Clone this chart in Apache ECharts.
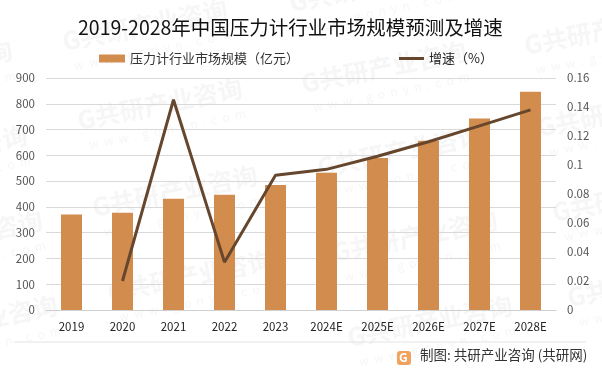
<!DOCTYPE html>
<html>
<head>
<meta charset="utf-8">
<style>
  html, body { margin: 0; padding: 0; background: #fff; }
  #chart { width: 602px; height: 375px; }
</style>
<script src="https://cdn.jsdelivr.net/npm/echarts@6/dist/echarts.min.js"></script>
</head>
<body>
<div id="chart"></div>
<script>
const categories = ['2019', '2020', '2021', '2022', '2023', '2024E', '2025E', '2026E', '2027E', '2028E']
const marketSize = [370, 377, 432, 447, 485, 532, 590, 657, 743, 847]
const growthRate = [null, 0.02, 0.145, 0.033, 0.093, 0.097, 0.106, 0.116, 0.127, 0.138]
const watermarkSpots = [
    [-150, 95], [-135, 180], [-120, 265], [-105, 350],
    [65, 54], [80, 133], [95, 220], [110, 305],
    [292, 15], [304, 96], [320, 180], [335, 265], [350, 350],
    [527, 58], [540, 140], [555, 225], [570, 310]
]

const font = '"Noto Sans CJK SC", sans-serif'
const chart = echarts.init(document.getElementById('chart'), null, { renderer: 'canvas' })

const watermarks = watermarkSpots.flatMap(([x, y]) => [
    {
        type: 'text', x: x, y: y, rotation: 0.2, z: -10, silent: true,
        style: { text: 'G共研产业咨询', font: 'bold 25px ' + font, fill: '#f6f6f6', verticalAlign: 'bottom' }
    },
    {
        type: 'text', x: x + 8, y: y + 6, rotation: 0.2, z: -10, silent: true,
        style: { text: 'w  w  w  .  g  o  n  y  n  .  c  o  m', font: '12px ' + font, fill: '#f6f6f6' }
    }
])

chart.setOption({
    animation: false,
    backgroundColor: '#fff',
    title: {
        text: '2019-2028年中国压力计行业市场规模预测及增速',
        left: 78,
        top: 18,
        padding: 0,
        textStyle: { fontFamily: font, fontWeight: 'normal', fontSize: 19.5, color: '#111' }
    },
    legend: [
        {
            left: 99,
            top: 52,
            padding: 0,
            itemWidth: 26,
            itemHeight: 8,
            icon: 'rect',
            textStyle: { fontFamily: font, fontSize: 13, color: '#333' },
            data: ['压力计行业市场规模（亿元）']
        },
        {
            left: 399,
            top: 52,
            padding: 0,
            itemWidth: 25,
            itemHeight: 3,
            icon: 'rect',
            textStyle: { fontFamily: font, fontSize: 13, color: '#222' },
            data: ['增速（%）']
        }
    ],
    grid: { left: 46, right: 46, top: 78, bottom: 65 },
    xAxis: {
        type: 'category',
        data: categories,
        axisTick: { show: false },
        axisLine: { lineStyle: { color: '#d0d0d0' } },
        axisLabel: { fontFamily: font, fontSize: 11.5, color: '#222', margin: 11 }
    },
    yAxis: [
        {
            type: 'value',
            min: 0,
            max: 900,
            interval: 100,
            axisLabel: { fontFamily: font, fontSize: 11.5, color: '#555', margin: 11 },
            splitLine: { lineStyle: { color: '#d9d9d9' } }
        },
        {
            type: 'value',
            min: 0,
            max: 0.16,
            interval: 0.02,
            axisLabel: { fontFamily: font, fontSize: 11.5, color: '#555', margin: 11 },
            splitLine: { show: false }
        }
    ],
    series: [
        {
            name: '压力计行业市场规模（亿元）',
            type: 'bar',
            data: marketSize,
            barWidth: 21,
            itemStyle: { color: '#d28c4e' }
        },
        {
            name: '增速（%）',
            type: 'line',
            yAxisIndex: 1,
            data: growthRate,
            showSymbol: false,
            symbol: 'none',
            lineStyle: { color: '#66472d', width: 3 },
            itemStyle: { color: '#66472d' }
        }
    ],
    graphic: watermarks.concat([
        {
            type: 'line', z: 5, silent: true,
            shape: { x1: 14, y1: 342, x2: 586, y2: 342 },
            style: { stroke: '#e4e4e4', lineWidth: 1 }
        },
        {
            type: 'rect', z: 5, silent: true,
            shape: { x: 397, y: 351, width: 14, height: 14, r: 3 },
            style: { fill: '#f0a35e' }
        },
        {
            type: 'text', z: 6, silent: true, x: 399, y: 351,
            style: { text: 'G', font: 'bold 12px ' + font, fill: '#fff' }
        },
        {
            type: 'text', z: 6, silent: true, x: 420, y: 348,
            style: { text: '制图: 共研产业咨询 (共研网)', font: '13.5px ' + font, fill: '#333' }
        }
    ])
})
</script>
</body>
</html>
